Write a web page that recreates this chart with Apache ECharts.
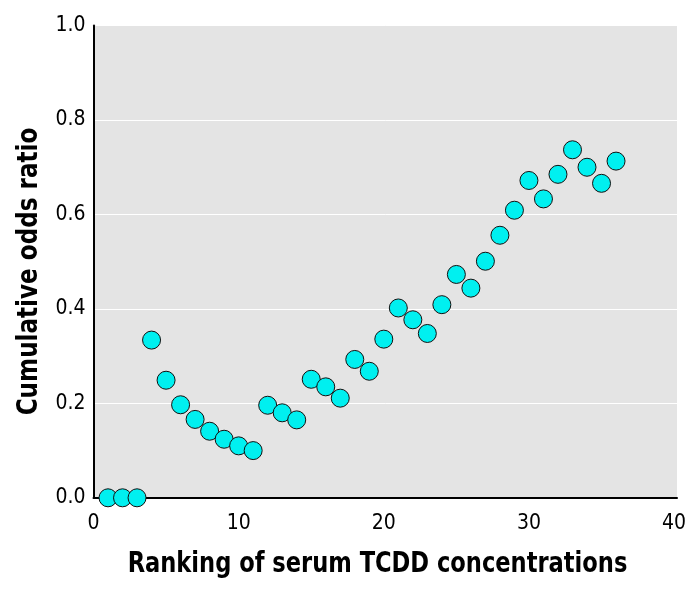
<!DOCTYPE html>
<html>
<head>
<meta charset="utf-8">
<script src="https://cdn.jsdelivr.net/npm/echarts@6/dist/echarts.min.js"></script>
<style>
html,body{margin:0;padding:0;background:#fff;}
#chart{width:697px;height:594px;}
</style>
</head>
<body>
<div id="chart"></div>
<script>
var ranks = [1,2,3,4,5,6,7,8,9,10,11,12,13,14,15,16,17,18,19,20,21,22,23,24,25,26,27,28,29,30,31,32,33,34,35,36];
var oddsRatio = [0.000,0.000,0.000,0.334,0.249,0.197,0.166,0.141,0.124,0.110,0.100,0.196,0.180,0.165,0.251,0.235,0.211,0.293,0.268,0.336,0.402,0.377,0.348,0.409,0.473,0.444,0.501,0.556,0.609,0.672,0.633,0.685,0.737,0.700,0.666,0.713];
var xTicks = [0,10,20,30,40];
var yTicks = [0.0,0.2,0.4,0.6,0.8,1.0];
var xTitle = 'Ranking of serum TCDD concentrations';
var yTitle = 'Cumulative odds ratio';

var FONT = '"Liberation Sans Narrow", "DejaVu Sans Condensed", "Roboto", sans-serif';
var data = ranks.map(function(r,i){return [r, oddsRatio[i]];});

var chart = echarts.init(document.getElementById('chart'), null, {renderer:'canvas'});
chart.setOption({
  animation:false,
  backgroundColor:'#ffffff',
  grid:{left:93.5, right:20, top:25.6, bottom:96.2, show:true, backgroundColor:'#e4e4e4', borderWidth:0,
        containLabel:false, outerBoundsMode:'none'},
  xAxis:{
    type:'value', min:0, max:40.2, interval:10,
    axisLine:{show:true, onZero:false, lineStyle:{color:'#000', width:2}},
    axisTick:{show:false},
    splitLine:{show:false},
    axisLabel:{fontFamily:FONT, fontSize:21, color:'#000', margin:15, showMaxLabel:false,
      formatter:function(v){ return xTicks.indexOf(v)>=0 ? String(v) : ''; }}
  },
  yAxis:{
    type:'value', min:0, max:1, interval:0.2,
    axisLine:{show:true, onZero:false, lineStyle:{color:'#000', width:2}},
    axisTick:{show:false},
    splitLine:{show:true, lineStyle:{color:'#ffffff', width:1}},
    axisLabel:{fontFamily:FONT, fontSize:21, color:'#000', margin:8,
      formatter:function(v){ return yTicks.indexOf(Math.round(v*10)/10)>=0 ? v.toFixed(1) : ''; }}
  },
  graphic:[
    {type:'text', x:377.5, y:564.5, scaleX:0.896, z:10,
     style:{text:xTitle, fontFamily:FONT, fontWeight:'bold', fontSize:28, fill:'#000', align:'center', verticalAlign:'middle'}},
    {type:'text', x:29.5, y:271.5, rotation:Math.PI/2, scaleX:0.917, z:10,
     style:{text:yTitle, fontFamily:FONT, fontWeight:'bold', fontSize:28, fill:'#000', align:'center', verticalAlign:'middle'}}
  ],
  series:[{
    type:'scatter', data:data, symbol:'circle', symbolSize:18, clip:false,
    itemStyle:{color:'#00f0f0', borderColor:'#111', borderWidth:1, opacity:1}
  }]
});
</script>
</body>
</html>
